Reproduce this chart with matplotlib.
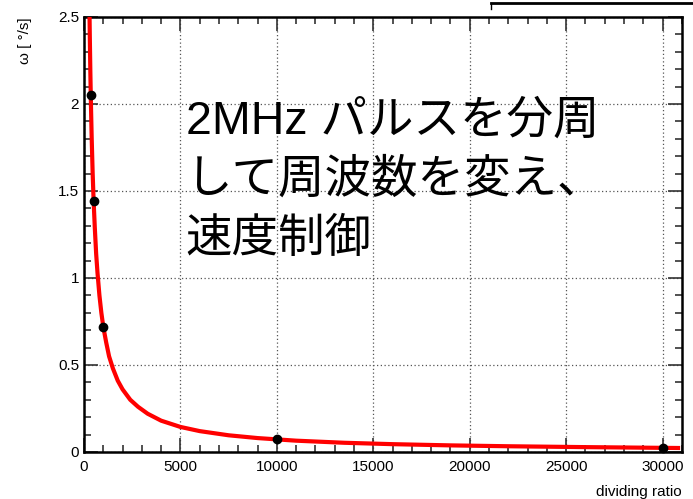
import matplotlib.pyplot as plt
from matplotlib.ticker import MultipleLocator

# =========================
# DATA
# =========================
ratio = [350, 500, 1000, 10000, 30000]
omega = [2.05, 1.44, 0.72, 0.072, 0.024]

# fitted curve
fit_x = [280, 300, 330, 360, 400, 450, 500, 560, 630, 700, 800, 900, 1000, 1150,
         1300, 1500, 1750, 2000, 2400, 2800, 3300, 4000, 5000, 6000, 7500,
         9000, 11000, 13500, 16000, 19000, 22000, 26000, 30800]
fit_y = [2.57, 2.40, 2.18, 2.00, 1.80, 1.60, 1.44, 1.29, 1.14, 1.03, 0.90, 0.80,
         0.72, 0.63, 0.55, 0.48, 0.41, 0.36, 0.30, 0.26, 0.22, 0.18, 0.144, 0.12,
         0.096, 0.08, 0.065, 0.053, 0.045, 0.038, 0.033, 0.028, 0.023]

xticks = [0, 5000, 10000, 15000, 20000, 25000, 30000]
yticks = [0, 0.5, 1, 1.5, 2, 2.5]

# =========================
# PLOT
# =========================
plt.rcParams['font.family'] = ['Liberation Sans', 'Noto Sans CJK JP', 'DejaVu Sans']

fig = plt.figure(figsize=(6.93, 4.99), dpi=100)
ax = fig.add_axes([0.1212, 0.0942, 0.8628, 0.8718])

ax.plot(fit_x, fit_y, color="red", linewidth=3, zorder=3)
ax.plot(ratio, omega, "o", color="black", markersize=6, zorder=4, clip_on=False)

ax.set_xlim(0, 31000)
ax.set_ylim(0, 2.5)
ax.set_xticks(xticks)
ax.set_xticklabels([str(v) for v in xticks])
ax.set_yticks(yticks)
ax.set_yticklabels(["0", "0.5", "1", "1.5", "2", "2.5"])
ax.xaxis.set_minor_locator(MultipleLocator(1000))
ax.yaxis.set_minor_locator(MultipleLocator(0.1))

ax.tick_params(which="both", direction="in", top=True, right=True,
               labelsize=11, width=1.2, color="#333333")
ax.tick_params(which="major", length=10)
ax.tick_params(which="minor", length=5)
ax.tick_params(axis="x", pad=6)

for s in ax.spines.values():
    s.set_linewidth(1.8)

ax.grid(True, which="major", linestyle=(0, (1, 2)), color="#555555", linewidth=0.9)

ax.set_xlabel("dividing ratio", fontsize=11, loc="right", labelpad=8)
ax.set_ylabel("ω [ °/s]", fontsize=11, loc="top", labelpad=19)

ax.text(0.268, 0.80, "2MHz パルスを分周\nして周波数を変え、\n速度制御",
        transform=fig.transFigure, fontsize=33.5, va="top", ha="left",
        linespacing=1.45, family=['Liberation Sans', 'Noto Sans CJK JP'])

# box edge at top right
fig.add_artist(plt.Line2D([0.708, 1.0], [0.993, 0.993], color="black", linewidth=2))
fig.add_artist(plt.Line2D([0.708, 0.708], [0.993, 0.982], color="black", linewidth=1))

plt.savefig("out.png", dpi=100)
